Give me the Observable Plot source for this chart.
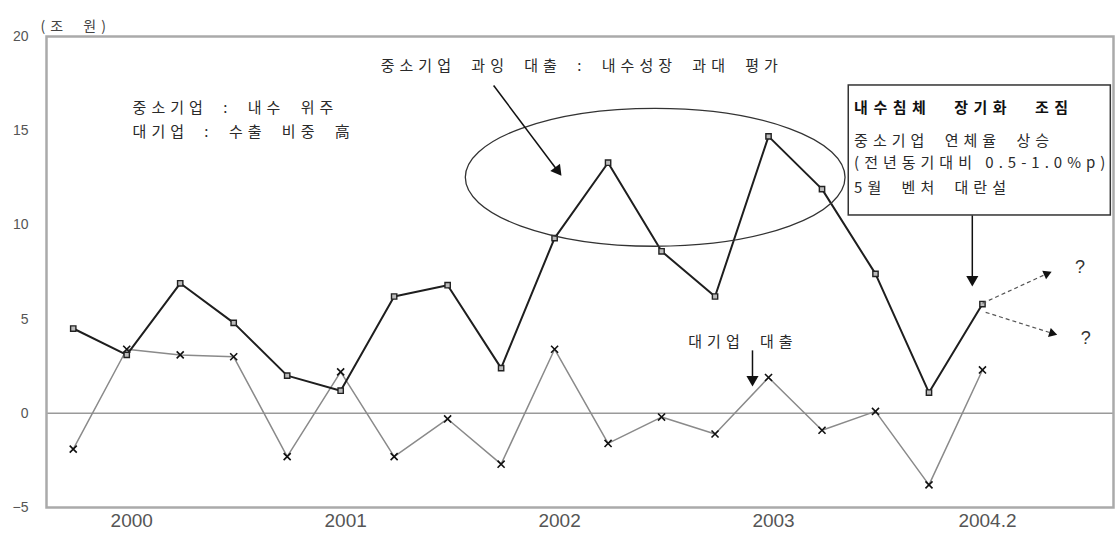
<!DOCTYPE html>
<html><head><meta charset="utf-8">
<script src="https://cdn.jsdelivr.net/npm/d3@7"></script>
<script src="https://cdn.jsdelivr.net/npm/@observablehq/plot@0.6"></script>
<style>
html,body{margin:0;padding:0;background:#fff;}
#chart svg{display:block;}
#chart g[aria-label="text"] text{letter-spacing:5px;word-spacing:7px;}
#chart g[aria-label="x-axis tick label"]{font-size:19px;}
#chart g[aria-label="y-axis tick label"]{font-size:14px;}
</style></head><body><div id="chart"></div>
<script>
// Quarters, 2000 Q1 … 2004 Q2
const quarters = ["2000.1","2000.2","2000.3","2000.4","2001.1","2001.2","2001.3","2001.4",
  "2002.1","2002.2","2002.3","2002.4","2003.1","2003.2","2003.3","2003.4","2004.1","2004.2"];
// 중소기업 대출 증감 (조 원)
const smeLoans = [4.5, 3.1, 6.9, 4.8, 2.0, 1.2, 6.2, 6.8, 2.4, 9.3, 13.3, 8.6, 6.2, 14.7, 11.9, 7.4, 1.1, 5.8];
// 대기업 대출 증감 (조 원)
const largeLoans = [-1.9, 3.4, 3.1, 3.0, -2.3, 2.2, -2.3, -0.3, -2.7, 3.4, -1.6, -0.2, -1.1, 1.9, -0.9, 0.1, -3.8, 2.3];
// axis ticks
const xTickQuarters = ["2000.2","2001.2","2002.2","2003.2","2004.2"];
const xTickLabels = ["2000","2001","2002","2003","2004.2"];
const yTicks = [-5, 0, 5, 10, 15, 20];
const unitLabel = "(조 원)";

// annotations (in data coordinates: quarter index, value)
const notes = [
  {x: 1.11, y: 16.2, text: "중소기업 : 내수 위주"},
  {x: 1.11, y: 14.9, text: "대기업 : 수출 비중 高"},
  {x: 5.75, y: 18.4, text: "중소기업 과잉 대출 : 내수성장 과대 평가"},
  {x: 11.5, y: 3.75, text: "대기업 대출"},
  {x: 14.6, y: 14.45, text: "중소기업 연체율 상승"},
  {x: 14.6, y: 13.25, text: "(전년동기대비 0.5-1.0%p)"},
  {x: 14.6, y: 11.95, text: "5월 벤처 대란설"}
];
const boxTitle = [{x: 14.6, y: 16.2, text: "내수침체 장기화 조짐"}];
const box = [{x1: 14.5, x2: 19.4, y1: 10.5, y2: 17.4}];
const ellipse = {cx: 10.89, cy: 12.5, rx: 3.55, ry: 3.66};
const arrows = [
  {x1: 7.86, y1: 17.4, x2: 9.05, y2: 12.9, rot: 143},
  {x1: 16.81, y1: 10.5, x2: 16.81, y2: 7.1, rot: 180},
  {x1: 12.7, y1: 3.34, x2: 12.7, y2: 1.8, rot: 180}
];
const dashedArrows = [
  {x1: 17.0, y1: 5.84, x2: 18.2, y2: 7.4, rot: 66},
  {x1: 17.06, y1: 5.36, x2: 18.3, y2: 4.25, rot: 107}
];
const questions = [{x: 18.87, y: 7.75, text: "?"}, {x: 18.98, y: 3.98, text: "?"}];

const rows = quarters.map((q, i) => ({q, i, sme: smeLoans[i], large: largeLoans[i]}));
const tickIdx = xTickQuarters.map(q => quarters.indexOf(q));
const tickLabelMap = new Map(tickIdx.map((t, k) => [t, xTickLabels[k]]));

const kfont = "'Noto Sans CJK KR', 'Noto Sans', sans-serif";

const plot = Plot.plot({
  width: 1117, height: 536,
  marginTop: 36, marginLeft: 46, marginRight: 4, marginBottom: 29,
  style: {fontFamily: "'Liberation Sans', Arial, sans-serif", background: "#fff"},
  x: {type: "linear", domain: [-0.5, 19.45]},
  y: {domain: [-5, 20]},
  marks: [
    Plot.axisY(yTicks, {tickSize: 0, tickPadding: 18, fill: "#555", label: null}),
    Plot.axisX(tickIdx, {tickSize: 0, tickPadding: 6, fill: "#555", dx: 5, label: null,
      tickFormat: d => tickLabelMap.get(d)}),
    Plot.ruleY([0], {stroke: "#9a9a9a", strokeWidth: 1.5}),
    Plot.frame({stroke: "#aaa", strokeWidth: 2.5}),
    Plot.text([unitLabel], {frameAnchor: "top-left", text: d => d, dx: -6, dy: -15,
      textAnchor: "start", fontFamily: kfont, fontSize: 14, fill: "#444"}),
    Plot.line(rows, {x: "i", y: "large", stroke: "#8a8a8a", strokeWidth: 1.5}),
    Plot.dot(rows, {x: "i", y: "large", symbol: "times", r: 3.3, stroke: "#111", strokeWidth: 1.6}),
    Plot.line(rows, {x: "i", y: "sme", stroke: "#1e1e1e", strokeWidth: 2}),
    Plot.dot(rows, {x: "i", y: "sme", symbol: "square", r: 3, fill: "#bbb", stroke: "#222", strokeWidth: 1.4}),
    (index, scales) => {
      const cx = scales.x(ellipse.cx), cy = scales.y(ellipse.cy);
      const rx = Math.abs(scales.x(ellipse.cx + ellipse.rx) - cx);
      const ry = Math.abs(scales.y(ellipse.cy + ellipse.ry) - cy);
      return d3.create("svg:ellipse").attr("cx", cx).attr("cy", cy).attr("rx", rx).attr("ry", ry)
        .attr("fill", "none").attr("stroke", "#333").attr("stroke-width", 1.3).node();
    },
    Plot.rect(box, {x1: "x1", x2: "x2", y1: "y1", y2: "y2", fill: "white", stroke: "#333", strokeWidth: 1.5}),
    Plot.link(arrows, {x1: "x1", y1: "y1", x2: "x2", y2: "y2", stroke: "#111", strokeWidth: 1.5}),
    Plot.dot(arrows, {x: "x2", y: "y2", symbol: "triangle", r: 4.5, fill: "#111", rotate: "rot"}),
    Plot.link(dashedArrows, {x1: "x1", y1: "y1", x2: "x2", y2: "y2", stroke: "#555", strokeWidth: 1.2, strokeDasharray: "4,3"}),
    Plot.dot(dashedArrows, {x: "x2", y: "y2", symbol: "triangle", r: 3.5, fill: "#111", rotate: "rot"}),
    Plot.text(notes, {x: "x", y: "y", text: "text", textAnchor: "start", lineAnchor: "middle",
      fontFamily: kfont, fontSize: 15, fill: "#2a2a2a"}),
    Plot.text(boxTitle, {x: "x", y: "y", text: "text", textAnchor: "start", lineAnchor: "middle",
      fontFamily: kfont, fontSize: 15, fontWeight: "bold", fill: "#111"}),
    Plot.text(questions, {x: "x", y: "y", text: "text", textAnchor: "middle", lineAnchor: "middle",
      fontFamily: "'Liberation Sans', Arial, sans-serif", fontSize: 18, fill: "#333"})
  ]
});
// fine-tune spacing of a few annotation lines
d3.select(plot).selectAll('g[aria-label="text"] text').each(function() {
  const t = this.textContent;
  if (t.includes("%p")) this.style.wordSpacing = "0px";
  if (t === boxTitle[0].text) { this.style.letterSpacing = "5.5px"; this.style.wordSpacing = "14px"; }
});
document.getElementById("chart").append(plot);
</script>
</body></html>
